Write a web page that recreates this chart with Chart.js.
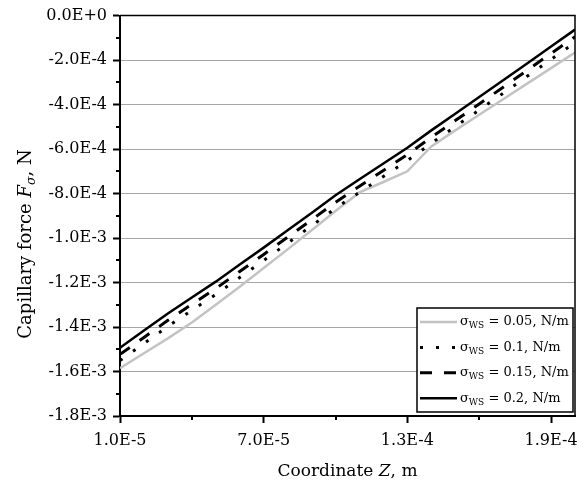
<!DOCTYPE html>
<html>
<head>
<meta charset="utf-8">
<script src="https://cdn.jsdelivr.net/npm/chart.js@4.4.0/dist/chart.umd.min.js"></script>
<style>
  html, body { margin: 0; padding: 0; background: #fff; }
  #wrap { width: 587px; height: 483px; }
</style>
</head>
<body>
<div id="wrap"><canvas id="force"></canvas></div>
<script>
// Capillary force along Z for four values of surface tension

var coordZ = [1.0e-5, 2.0e-5, 3.0e-5, 4.0e-5, 5.0e-5, 6.0e-5, 7.0e-5, 8.0e-5, 9.0e-5, 1.0e-4,
              1.1e-4, 1.2e-4, 1.3e-4, 1.4e-4, 1.5e-4, 1.6e-4, 1.7e-4, 1.8e-4, 1.9e-4, 2.0e-4];

var forceWs005 = [-1.585e-3, -1.518e-3, -1.451e-3, -1.380e-3, -1.300e-3, -1.219e-3, -1.135e-3, -1.051e-3, -0.965e-3, -0.878e-3,
                  -0.795e-3, -0.748e-3, -0.700e-3, -0.588e-3, -0.516e-3, -0.446e-3, -0.376e-3, -0.306e-3, -0.236e-3, -0.166e-3];
var forceWs010 = [-1.551e-3, -1.474e-3, -1.397e-3, -1.325e-3, -1.254e-3, -1.177e-3, -1.101e-3, -1.023e-3, -0.945e-3, -0.866e-3,
                  -0.794e-3, -0.723e-3, -0.652e-3, -0.574e-3, -0.499e-3, -0.424e-3, -0.349e-3, -0.273e-3, -0.197e-3, -0.121e-3];
var forceWs015 = [-1.523e-3, -1.447e-3, -1.370e-3, -1.298e-3, -1.227e-3, -1.150e-3, -1.074e-3, -0.996e-3, -0.918e-3, -0.839e-3,
                  -0.767e-3, -0.696e-3, -0.625e-3, -0.547e-3, -0.472e-3, -0.397e-3, -0.322e-3, -0.246e-3, -0.170e-3, -0.095e-3];
var forceWs020 = [-1.493e-3, -1.416e-3, -1.339e-3, -1.267e-3, -1.196e-3, -1.119e-3, -1.043e-3, -0.965e-3, -0.887e-3, -0.808e-3,
                  -0.736e-3, -0.665e-3, -0.594e-3, -0.516e-3, -0.441e-3, -0.366e-3, -0.291e-3, -0.215e-3, -0.139e-3, -0.063e-3];

var sigmaLabels = ['0.05', '0.1', '0.15', '0.2'];

var zTicks = [1.0e-5, 7.0e-5, 1.3e-4, 1.9e-4];
var zMinorTicks = [4.0e-5, 1.0e-4, 1.6e-4];
var forceTicks = [0, -2e-4, -4e-4, -6e-4, -8e-4, -1.0e-3, -1.2e-3, -1.4e-3, -1.6e-3, -1.8e-3];
var forceMinorTicks = [-1e-4, -3e-4, -5e-4, -7e-4, -9e-4, -1.1e-3, -1.3e-3, -1.5e-3, -1.7e-3];

var SERIF = '"DejaVu Serif", serif';

function sci(v) {
  return Number(v).toExponential(1).replace('e', 'E');
}

function points(ys) {
  return coordZ.map(function (z, i) { return { x: z, y: ys[i] }; });
}

// text made of pieces with their own font and vertical shift
function runsWidth(ctx, runs) {
  var w = 0;
  runs.forEach(function (r) { ctx.font = r.font; w += ctx.measureText(r.text).width; });
  return w;
}
function drawRuns(ctx, runs, x, y) {
  runs.forEach(function (r) {
    ctx.font = r.font;
    ctx.fillText(r.text, x, y + (r.dy || 0));
    x += ctx.measureText(r.text).width;
  });
}

var decorations = {
  id: 'decorations',
  afterDraw: function (chart) {
    var ctx = chart.ctx, area = chart.chartArea;
    var xs = chart.scales.x, ys = chart.scales.y;
    ctx.save();

    // frame on top and right
    ctx.strokeStyle = '#000';
    ctx.lineWidth = 1.5;
    ctx.beginPath();
    ctx.moveTo(area.left, area.top);
    ctx.lineTo(area.right, area.top);
    ctx.lineTo(area.right, area.bottom);
    ctx.stroke();

    // minor ticks
    ctx.lineWidth = 2;
    ctx.beginPath();
    zMinorTicks.forEach(function (v) {
      var px = Math.round(xs.getPixelForValue(v));
      ctx.moveTo(px, area.bottom);
      ctx.lineTo(px, area.bottom + 4);
    });
    forceMinorTicks.forEach(function (v) {
      var py = Math.round(ys.getPixelForValue(v));
      ctx.moveTo(area.left, py);
      ctx.lineTo(area.left - 4, py);
    });
    ctx.stroke();

    // axis titles
    ctx.fillStyle = '#000';
    ctx.textBaseline = 'alphabetic';
    var xTitle = [
      { text: 'Coordinate ', font: '17px ' + SERIF },
      { text: 'Z', font: 'italic 17px ' + SERIF },
      { text: ', m', font: '17px ' + SERIF }
    ];
    var w = runsWidth(ctx, xTitle);
    drawRuns(ctx, xTitle, (area.left + area.right) / 2 - w / 2, 476);

    var yTitle = [
      { text: 'Capillary force ', font: '18px ' + SERIF },
      { text: 'F', font: 'italic 18px ' + SERIF },
      { text: '\u03c3', font: 'italic 12.5px ' + SERIF, dy: 4 },
      { text: ', N', font: '18px ' + SERIF }
    ];
    ctx.translate(31, 244);
    ctx.rotate(-Math.PI / 2);
    w = runsWidth(ctx, yTitle);
    drawRuns(ctx, yTitle, -w / 2, 0);
    ctx.setTransform(1, 0, 0, 1, 0, 0);

    // legend box in the lower right corner
    var bx = area.right - 158, by = area.bottom - 108, bw = 156, bh = 104;
    ctx.fillStyle = '#fff';
    ctx.fillRect(bx, by, bw, bh);
    ctx.lineWidth = 1.5;
    ctx.strokeStyle = '#000';
    ctx.strokeRect(bx, by, bw, bh);

    chart.data.datasets.forEach(function (ds, i) {
      var cy = by + 14 + i * 25.4;
      ctx.save();
      ctx.strokeStyle = ds.borderColor;
      ctx.lineWidth = ds.borderWidth;
      ctx.setLineDash(ds.borderDash || []);
      ctx.beginPath();
      ctx.moveTo(bx + 3, cy);
      ctx.lineTo(bx + 40, cy);
      ctx.stroke();
      ctx.restore();
      ctx.fillStyle = '#000';
      ctx.textBaseline = 'middle';
      drawRuns(ctx, [
        { text: '\u03c3', font: '13px ' + SERIF },
        { text: 'WS', font: '9px ' + SERIF, dy: 4 },
        { text: ' = ' + sigmaLabels[i] + ', N/m', font: '13px ' + SERIF }
      ], bx + 43, cy);
    });

    ctx.restore();
  }
};

var chart = new Chart(document.getElementById('force'), {
  type: 'line',
  data: {
    datasets: [
      { data: points(forceWs005), borderColor: '#c3c3c3', borderWidth: 2.5, order: 4 },
      { data: points(forceWs010), borderColor: '#000', borderWidth: 3, borderDash: [3, 13], order: 3 },
      { data: points(forceWs015), borderColor: '#000', borderWidth: 3, borderDash: [12, 12], order: 2 },
      { data: points(forceWs020), borderColor: '#000', borderWidth: 2.5, order: 1 }
    ]
  },
  options: {
    responsive: true,
    maintainAspectRatio: false,
    devicePixelRatio: 1,
    animation: false,
    layout: { padding: { top: 15, right: 12, left: 0, bottom: 0 } },
    elements: { point: { radius: 0 }, line: { tension: 0, borderCapStyle: 'butt' } },
    plugins: { legend: { display: false }, tooltip: { enabled: false } },
    scales: {
      x: {
        type: 'linear',
        min: 1.0e-5,
        max: 2.0e-4,
        afterBuildTicks: function (s) { s.ticks = zTicks.map(function (v) { return { value: v }; }); },
        afterFit: function (s) { s.height = 67; },
        ticks: {
          callback: function (v) { return sci(v); },
          color: '#000',
          padding: 8,
          maxRotation: 0,
          font: { family: SERIF, size: 16 }
        },
        grid: { drawOnChartArea: false, tickLength: 7, tickColor: '#000', tickWidth: 2 },
        border: { color: '#000', width: 2 }
      },
      y: {
        min: -1.8e-3,
        max: 0,
        afterBuildTicks: function (s) { s.ticks = forceTicks.map(function (v) { return { value: v }; }); },
        afterFit: function (s) { s.width = 120; },
        ticks: {
          callback: function (v) { return sci(v); },
          color: '#000',
          padding: 6,
          font: { family: SERIF, size: 16 }
        },
        grid: { color: '#a6a6a6', lineWidth: 1, tickLength: 7, tickColor: '#000', tickWidth: 2 },
        border: { color: '#000', width: 2 }
      }
    }
  },
  plugins: [decorations]
});
</script>
</body>
</html>
